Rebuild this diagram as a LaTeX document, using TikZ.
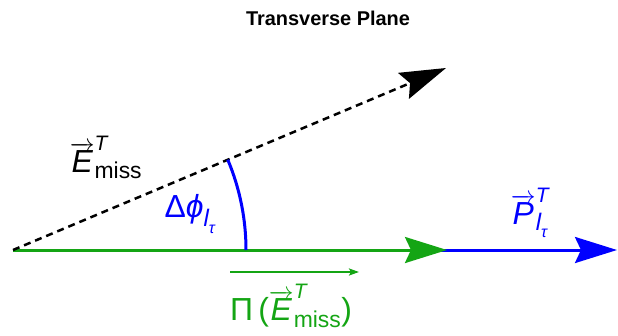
\documentclass[tikz,border=0pt]{standalone}
\usepackage{fontspec}
\setmainfont{Liberation Sans}
\usetikzlibrary{arrows.meta}
\definecolor{grn}{RGB}{20,165,20}
\newcommand\fs[1]{\fontsize{#1}{#1}\selectfont}
\newcommand\ltau[2]{\hbox{\fs{#1}\itshape l\raisebox{-0.3em}{\fs{#2}\itshape τ}}}
\tikzset{
  lbl/.style={inner sep=0pt, font=\fs{32}},
  vec/.style={line width=3bp},
  bigtip/.style={-{Stealth[length=42bp,width=26bp,inset=6bp]}}
}
\begin{document}
\begin{tikzpicture}[x=1bp,y=-1bp]
\useasboundingbox[fill=white] (0,0) rectangle (618,335);
\coordinate (O) at (13,250);
\coordinate (Etip) at (446,68);
\coordinate (Gtip) at (447,250);
\coordinate (Btip) at (617,250);
\draw[vec, blue, bigtip] (O) -- (Btip);
\draw[vec, grn, bigtip] (O) -- (Gtip);
\draw[line width=2.5bp, dash pattern=on 7bp off 5bp, -{Stealth[length=46bp,width=28bp,inset=7bp]}] (O) -- (Etip);
\draw[vec, blue] (246,250) arc[start angle=0, end angle=-22.8, radius=233];
\node (title) at (328,18) {\fs{20}\bfseries Transverse Plane};
\node[lbl, anchor=center] (elab) at (106,157)
  {$\overrightarrow{\hbox{\itshape E}}^{\hbox{\fs{21}\itshape T}}_{\hbox{\fs{23}miss}}$};
\node[lbl, blue] (dphi) at (190,214)
  {Δ\textit{ϕ}$_{\ltau{24}{16}}$};
\node[lbl, blue] (plab) at (530,213)
  {$\overrightarrow{\hbox{\itshape P}}^{\hbox{\fs{21}\itshape T}}_{\ltau{24}{16}}$};
\node[lbl, grn] (pilab) at (291,306)
  {Π\,($\overrightarrow{\hbox{\itshape E}}^{\hbox{\fs{21}\itshape T}}_{\hbox{\fs{23}miss}}$)};
\coordinate (pa) at (230,272);
\coordinate (pb) at (359,272);
\draw[grn, line width=2bp, -{Stealth[length=10bp,width=7bp,inset=2bp]}] (pa) -- (pb);
\end{tikzpicture}
\end{document}
